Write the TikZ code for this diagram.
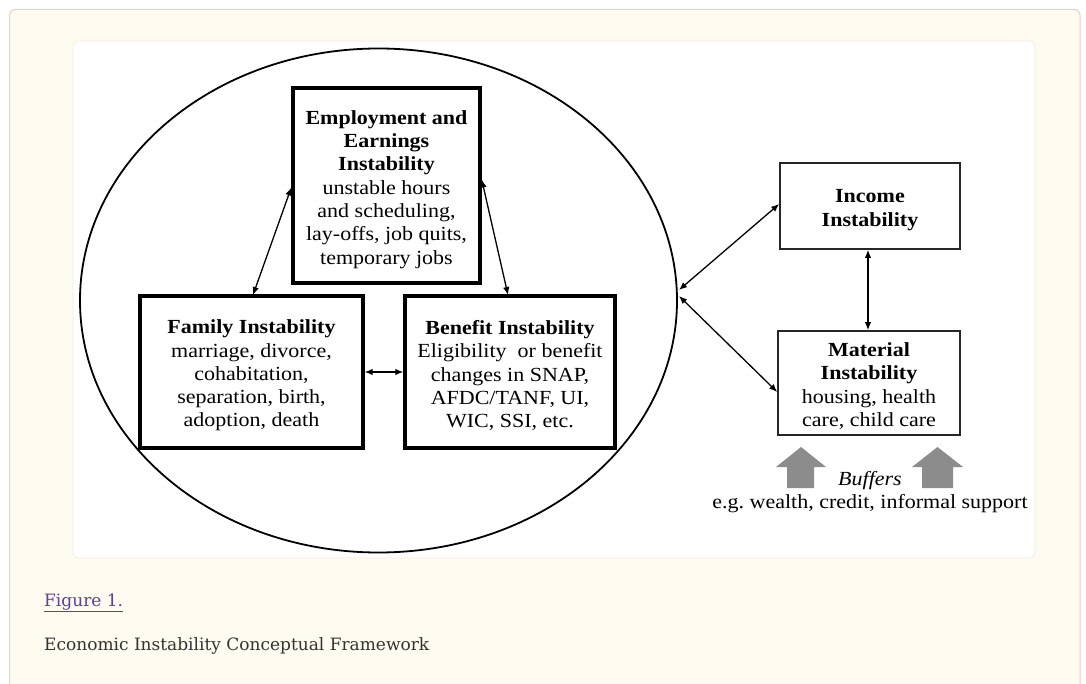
\documentclass[tikz,border=0pt]{standalone}
\usepackage{fontspec}
\setmainfont{Liberation Serif}[FakeStretch=1.1]
\newfontfamily\capfont{DejaVu Serif}
\usetikzlibrary{shapes.geometric,arrows.meta}
\definecolor{panelfill}{HTML}{FEFBF0}
\definecolor{panelborder}{HTML}{F0CDBD}
\definecolor{cardborder}{HTML}{F3ECDF}
\definecolor{linkcol}{HTML}{5E3F9A}
\definecolor{capcol}{HTML}{333333}
\definecolor{buffergray}{HTML}{8C8C8C}
\begin{document}
\begin{tikzpicture}[x=1pt,y=-1pt,
  thickbox/.style={draw=black, line width=3.4pt, fill=white, inner sep=0pt},
  thinbox/.style={draw=black!85, line width=1.6pt, fill=white, inner sep=0pt},
  boxtext/.style={inner sep=0pt, align=center, font=\fontsize{20}{23.3}\selectfont},
  link/.style={line width=1.3pt, {Latex[length=8pt,width=6.5pt]}-{Latex[length=8pt,width=6.5pt]}},
  buffer/.style={fill=buffergray, draw=none}
]
\useasboundingbox (0,0) rectangle (1086,684);
% page panel
\fill[white] (0,0) rectangle (1086,684);
\draw[panelborder, fill=panelfill, line width=1pt, rounded corners=6pt] (9.5,9.5) rectangle (1080,700);
% white card
\draw[cardborder, fill=white, line width=0.8pt, rounded corners=5pt] (73,41) rectangle (1035,558);
% ellipse
\node[ellipse, draw=black, line width=1.8pt, minimum width=597pt, minimum height=504pt, inner sep=0pt] (ell) at (378.5,300.5) {};
% boxes
\node[thickbox, minimum width=187pt, minimum height=195pt] (emp) at (386.5,185.5) {};
\node[thinbox, minimum width=180pt, minimum height=86pt] (inc) at (870,206) {};
\node[thickbox, minimum width=223pt, minimum height=152pt] (fam) at (251.5,372) {};
\node[thickbox, minimum width=210pt, minimum height=152pt] (ben) at (510,372) {};
\node[thinbox, minimum width=182pt, minimum height=104pt] (mat) at (869,383) {};
% box texts
\node[boxtext] (empt) at ([yshift=-4pt]emp.center)
  {\textbf{Employment and}\\\textbf{Earnings}\\\textbf{Instability}\\unstable hours\\and scheduling,\\lay-offs, job quits,\\temporary jobs};
\node[boxtext] (famt) at ([yshift=-3.5pt]fam.center)
  {\textbf{Family Instability}\\marriage,\ divorce,\\cohabitation,\\separation, birth,\\adoption, death};
\node[boxtext] (bent) at ([yshift=-3.5pt]ben.center)
  {\textbf{Benefit Instability}\\Eligibility\ \ or benefit\\changes in SNAP,\\AFDC/TANF, UI,\\WIC, SSI, etc.};
\node[boxtext] (inct) at ([yshift=-4pt]inc.center)
  {\textbf{Income}\\\textbf{Instability}};
\node[boxtext] (matt) at ([yshift=-3pt]mat.center)
  {\textbf{Material}\\\textbf{Instability}\\housing, health\\care, child care};
% connectors
\coordinate (ea) at ([yshift=-2pt]emp.west);
\coordinate (fa) at (253,295);
\coordinate (eb) at ([yshift=6pt]emp.east);
\coordinate (ba) at (508,295);
\draw[link] (ea) -- (fa);
\draw[link] (eb) -- (ba);
\draw[link] (fam.east) -- (ben.west);
\coordinate (e1) at (679,290);
\coordinate (e2) at (679,296);
\draw[link] (e1) -- ([yshift=2pt]inc.west);
\draw[link] (e2) -- ([yshift=-9pt]mat.west);
\draw[link] ([xshift=-2pt]inc.south) -- ([xshift=-1pt]mat.north);
% buffer arrows
\fill[buffer] (801,447) -- (826,467) -- (814,467) -- (814,488) -- (787,488) -- (787,467) -- (776,467) -- cycle;
\fill[buffer] (937.5,447) -- (963,467) -- (953,467) -- (953,488) -- (922,488) -- (922,467) -- (912,467) -- cycle;
\node[font=\fontsize{20}{22}\selectfont\itshape, inner sep=0pt] (buf) at (870,481) {Buffers};
\node[font=\fontsize{20}{22}\selectfont\frenchspacing, inner sep=0pt] (bufeg) at (870,504) {e.g. wealth, credit, informal support};
% caption
\node[anchor=base west, inner sep=0pt, font=\capfont\fontsize{17}{20}\selectfont, text=linkcol] (fig) at (44,606) {\underline{Figure 1.}};
\node[anchor=base west, inner sep=0pt, font=\capfont\fontsize{17}{20}\selectfont, text=capcol] (cap) at (44,650) {Economic Instability Conceptual Framework};
\end{tikzpicture}
\end{document}
